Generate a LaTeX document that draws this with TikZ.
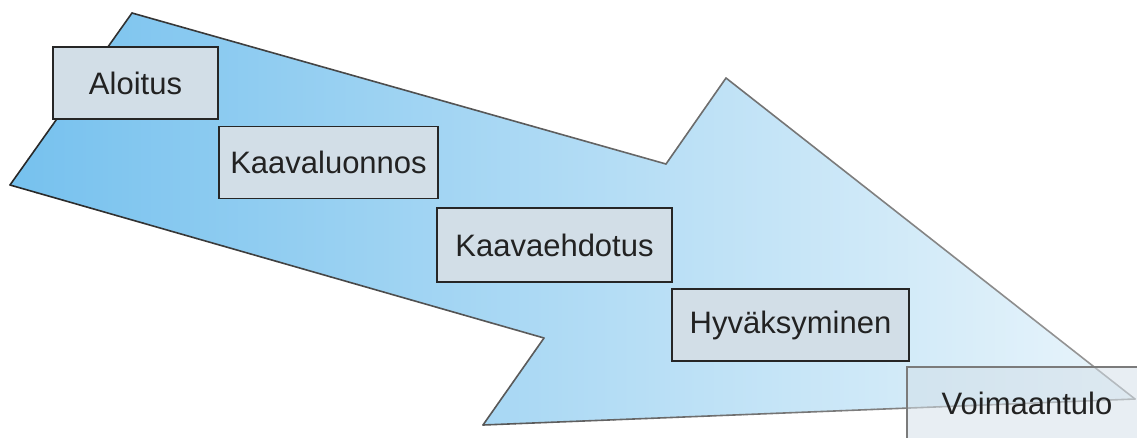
\documentclass[tikz,border=0pt]{standalone}
\usepackage{fontspec}
\setmainfont{Liberation Sans}
\usetikzlibrary{calc}
\definecolor{arrL}{HTML}{76C1EE}
\definecolor{arrR}{HTML}{EAF5FB}
\definecolor{boxfill}{HTML}{D2DEE7}
\definecolor{edgeL}{HTML}{262626}
\definecolor{edgeR}{HTML}{9A9A9A}
\definecolor{txt}{HTML}{222222}
\tikzset{
  stage/.style={draw=edgeL, line width=1.4pt, fill=boxfill, minimum height=72pt,
    text=txt, font=\fontsize{31}{31}\selectfont, inner sep=0pt},
  lastbox/.style={stage, draw=edgeR!80!black, fill opacity=0.5, text opacity=1},
  outline/.style={line width=1.6pt, line cap=round}
}
\begin{document}
\begin{tikzpicture}[x=1pt,y=-1pt]
\useasboundingbox (0,0) rectangle (1137,437);
\coordinate (p1) at (132,13);
\coordinate (p2) at (666,164);
\coordinate (p3) at (726,78);
\coordinate (p4) at (1135,399);
\coordinate (p5) at (483,425);
\coordinate (p6) at (544,338);
\coordinate (p7) at (10,185);
\shade[left color=arrL, right color=arrR] (p1)--(p2)--(p3)--(p4)--(p5)--(p6)--(p7)--cycle;
\foreach \a/\b/\xa/\xb in {p1/p2/132/666, p2/p3/666/726, p3/p4/726/1135, p4/p5/1135/483, p5/p6/483/544, p6/p7/544/10, p7/p1/10/132}{
  \foreach \i in {0,...,19}{
    \pgfmathsetmacro{\pct}{max(0,min(100,(1135-(\xa+(\i+0.5)/20*(\xb-\xa)))/11.25))}
    \pgfmathsetmacro{\ta}{\i/20}
    \pgfmathsetmacro{\tb}{(\i+1)/20}
    \colorlet{segc}{edgeL!\pct!edgeR}
    \draw[outline, draw=segc] ($(\a)!\ta!(\b)$) -- ($(\a)!\tb!(\b)$);
  }
}
\node[stage, minimum width=165pt] (n1) at (135.5,83) {Aloitus};
\node[stage, minimum width=219pt] (n2) at (328.5,162.5) {Kaavaluonnos};
\node[stage, minimum width=235pt, minimum height=74pt] (n3) at (554.5,245) {Kaavaehdotus};
\node[stage, minimum width=237pt] (n4) at (790.5,325) {Hyväksyminen};
\node[lastbox, minimum width=240pt] (n5) at (1027,403) {Voimaantulo};
\end{tikzpicture}
\end{document}
